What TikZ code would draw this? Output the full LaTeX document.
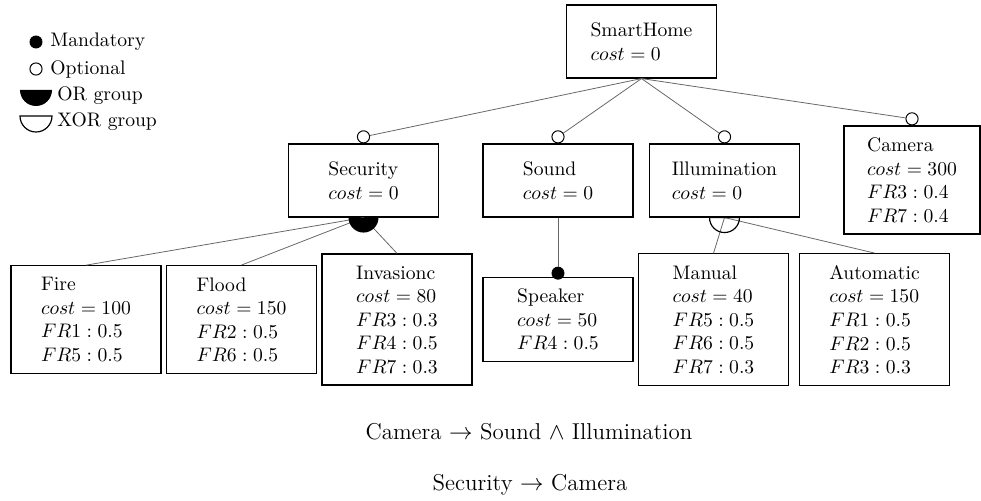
\documentclass[tikz,border=0pt]{standalone}
\usepackage{amsmath,amssymb}
\usepackage{tikz}
\usetikzlibrary{positioning,calc}
\tikzset{
  feat/.style={draw,line width=0.6pt,align=left,minimum width=76.5pt,minimum height=37.2pt,inner ysep=6pt},
  opt/.style={draw,circle,fill=white,minimum size=6.2pt,inner sep=0pt,line width=0.5pt},
  mand/.style={draw,circle,fill=black,minimum size=6.2pt,inner sep=0pt},
  ln/.style={draw=black!60,line width=0.4pt},
  lgd/.style={anchor=west,inner sep=0pt},
  rule/.style={anchor=base,inner sep=0pt,font=\fontsize{11.7pt}{14pt}\selectfont}
}

\begin{document}
\begin{tikzpicture}[x=0.51pt,y=0.51pt]
\useasboundingbox (0,0) rectangle (981,-501);
% legend
\node[mand] (lm) at (36,-42) {};
\node[lgd] (lmt) at (50,-42) {Mandatory};
\node[opt] (lo) at (36,-69) {};
\node[lgd] (lot) at (50,-69) {Optional};
\coordinate (lor) at (36,-90);
\fill (lor) ++(-16,0) arc[start angle=180,end angle=360,radius=16] -- cycle;
\node[lgd] (lort) at (57,-96) {OR group};
\coordinate (lxor) at (36,-116);
\draw[line width=0.6pt] (lxor) ++(-16,0) arc[start angle=180,end angle=360,radius=16] -- cycle;
\node[lgd] (lxort) at (57,-122) {XOR group};
% features
\node[feat] (home) at (641.5,-41.5) {SmartHome\\$cost = 0$};
\node[feat] (sec) at (363.5,-180.5) {Security\\$cost = 0$};
\node[feat] (snd) at (558,-180.5) {Sound\\$cost = 0$};
\node[feat] (ill) at (724.5,-180.5) {Illumination\\$cost = 0$};
\node[feat,minimum width=69.4pt] (cam) at (912,-180) {Camera\\$cost = 300$\\$FR3 : 0.4$\\$FR7 : 0.4$};
\node[feat] (fire) at (86,-319.5) {Fire\\$cost = 100$\\$FR1 : 0.5$\\$FR5 : 0.5$};
\node[feat] (flood) at (241.5,-319.5) {Flood\\$cost = 150$\\$FR2 : 0.5$\\$FR6 : 0.5$};
\node[feat] (inv) at (397,-319.5) {Invasionc\\$cost = 80$\\$FR3 : 0.3$\\$FR4 : 0.5$\\$FR7 : 0.3$};
\node[feat] (spk) at (558,-319.5) {Speaker\\$cost = 50$\\$FR4 : 0.5$};
\node[feat] (manu) at (713.5,-319.5) {Manual\\$cost = 40$\\$FR5 : 0.5$\\$FR6 : 0.5$\\$FR7 : 0.3$};
\node[feat] (auto) at (874.5,-319.5) {Automatic\\$cost = 150$\\$FR1 : 0.5$\\$FR2 : 0.5$\\$FR3 : 0.3$};
% optional children of the root
\node[opt,anchor=south] (osec) at (sec.north) {};
\node[opt,anchor=south] (osnd) at (snd.north) {};
\node[opt,anchor=south] (oill) at (ill.north) {};
\node[opt,anchor=south] (ocam) at (cam.north) {};
\draw[ln] (home.south)--(osec); \draw[ln] (home.south)--(osnd);
\draw[ln] (home.south)--(oill); \draw[ln] (home.south)--(ocam);
% mandatory
\node[mand,anchor=south,yshift=-1.5pt] (mspk) at (spk.north) {};
\draw[ln] (snd.south)--(mspk);
% or group
\draw[ln] (sec.south)--(fire.north); \draw[ln] (sec.south)--(flood.north);
\draw[ln] (sec.south)--(inv.north);
\fill (sec.south) ++(-15,0) arc[start angle=180,end angle=360,radius=15] -- cycle;
% xor group
\draw[ln] (ill.south)--(manu.north); \draw[ln] (ill.south)--(auto.north);
\draw[line width=0.6pt] (ill.south) ++(-15,0) arc[start angle=180,end angle=360,radius=15] -- cycle;
% constraints
\node[rule] (c1) at (529,-440) {Camera $\rightarrow$ Sound $\wedge$ Illumination};
\node[rule] (c2) at (530,-491) {Security $\rightarrow$ Camera};
\end{tikzpicture}
\end{document}
